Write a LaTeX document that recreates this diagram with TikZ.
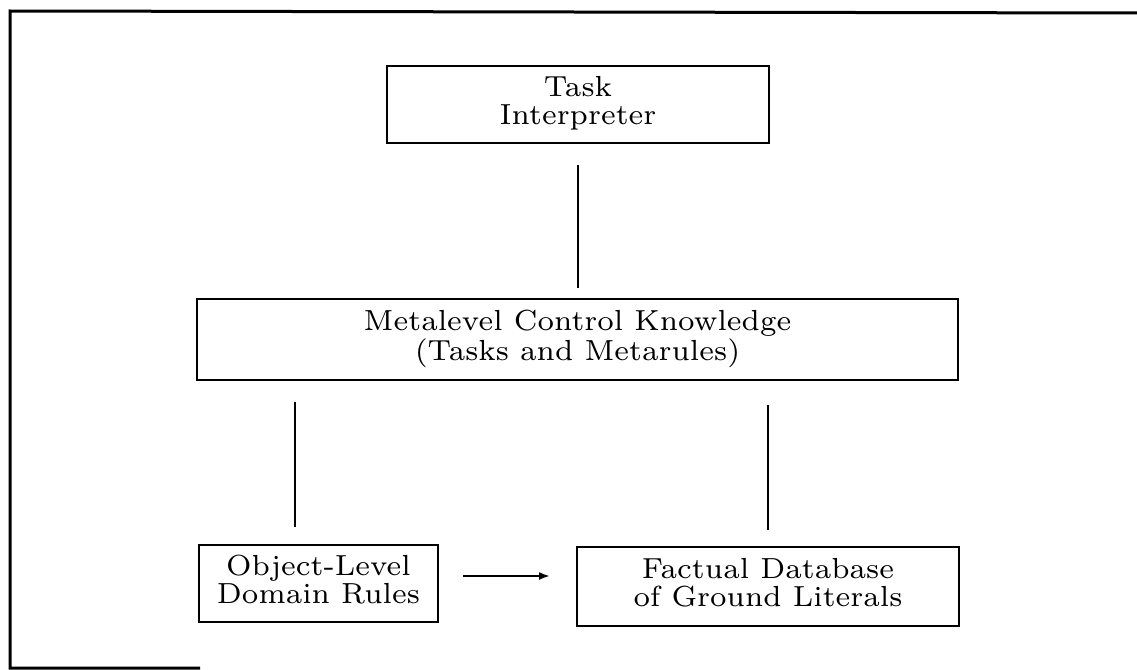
\documentclass[tikz,border=0pt]{standalone}
\usetikzlibrary{arrows.meta}
\newcommand\txt[1]{\scalebox{4.15}{\fontsize{7}{6.6}\selectfont\begin{tabular}{@{}c@{}}#1\end{tabular}}}
\tikzset{
  box/.style={draw=black, line width=2.5pt, inner sep=0pt, outer sep=0pt, fill=white},
  conn/.style={draw=black, line width=2pt},
  frameline/.style={draw=black, line width=3pt},
}
\begin{document}
\begin{tikzpicture}[x=1pt,y=-1pt]
\useasboundingbox (0,0) rectangle (1137,669);
% frame (partly cut by the page)
\draw[frameline] (200,668) -- (10,668) -- (10,11) -- (1137,13);
% nodes
\node[box, minimum width=382pt, minimum height=77pt] (task) at (578,104.5) {\txt{Task\\Interpreter}};
\node[box, minimum width=761pt, minimum height=81pt] (meta) at (577.5,339.5) {\txt{Metalevel Control Knowledge\\(Tasks and Metarules)}};
\node[box, minimum width=239pt, minimum height=77pt] (obj) at (318.5,583.5) {\txt{Object-Level\\Domain Rules}};
\node[box, minimum width=382pt, minimum height=79pt] (fact) at (768,586.5) {\txt{Factual Database\\of Ground Literals}};
% connectors
\draw[conn, shorten <=22pt, shorten >=11pt] (task.south) -- (task.south |- meta.north);
\draw[conn, shorten <=22pt, shorten >=18pt] ([xshift=98pt]meta.south west) -- ([xshift=98pt]meta.south west |- obj.north);
\draw[conn, shorten <=25pt, shorten >=17pt] (fact.north |- meta.south) -- (fact.north);
\draw[conn, -{Latex[length=11pt,width=8pt]}, shorten <=25pt, shorten >=27pt] ([yshift=7.5pt]obj.east) -- ([yshift=7.5pt]obj.east -| fact.west);
\end{tikzpicture}
\end{document}
